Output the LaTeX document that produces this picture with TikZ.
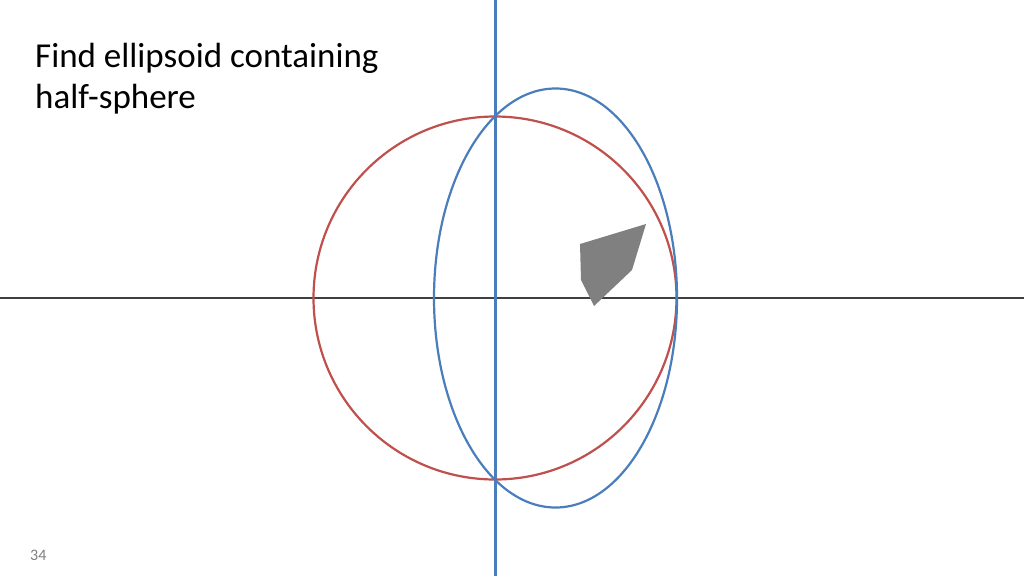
\documentclass[tikz,border=0pt]{standalone}
\usepackage{fontspec}
\setmainfont{Carlito}
\definecolor{axisblue}{RGB}{74,126,187}
\definecolor{spherered}{RGB}{192,80,77}
\definecolor{axisgray}{RGB}{64,64,64}

\begin{document}
\begin{tikzpicture}[x=1pt,y=-1pt,
    title/.style={anchor=base west,inner sep=0pt,font=\fontsize{35}{42}\selectfont},
    curve/.style={line width=2.2pt}]

\useasboundingbox[fill=white] (0,0) rectangle (1024,576);

\coordinate (O) at (495,298);
\coordinate (E) at (555.5,298);

% axes
\draw[axisgray, line width=1.6pt] (0,298) -- (1024,298);
\draw[axisblue, line width=3pt] (495,0) -- (495,576);

% half-sphere and ellipsoid
\draw[spherered, curve] (O) circle [radius=181.5];
\draw[axisblue, curve] (E) ellipse [x radius=121.5, y radius=209.5];

% the convex body
\fill[gray] (580,244) -- (646,224) -- (632,270) -- (594,306) -- (581,280) -- cycle;

\node[title] (line1) at (35,67) {Find ellipsoid containing};
\node[title] (line2) at (35,108) {half-sphere};
\node[anchor=base west, inner sep=0pt, text=gray, font=\fontsize{16}{18}\selectfont] (page) at (30,560) {34};

\end{tikzpicture}
\end{document}
